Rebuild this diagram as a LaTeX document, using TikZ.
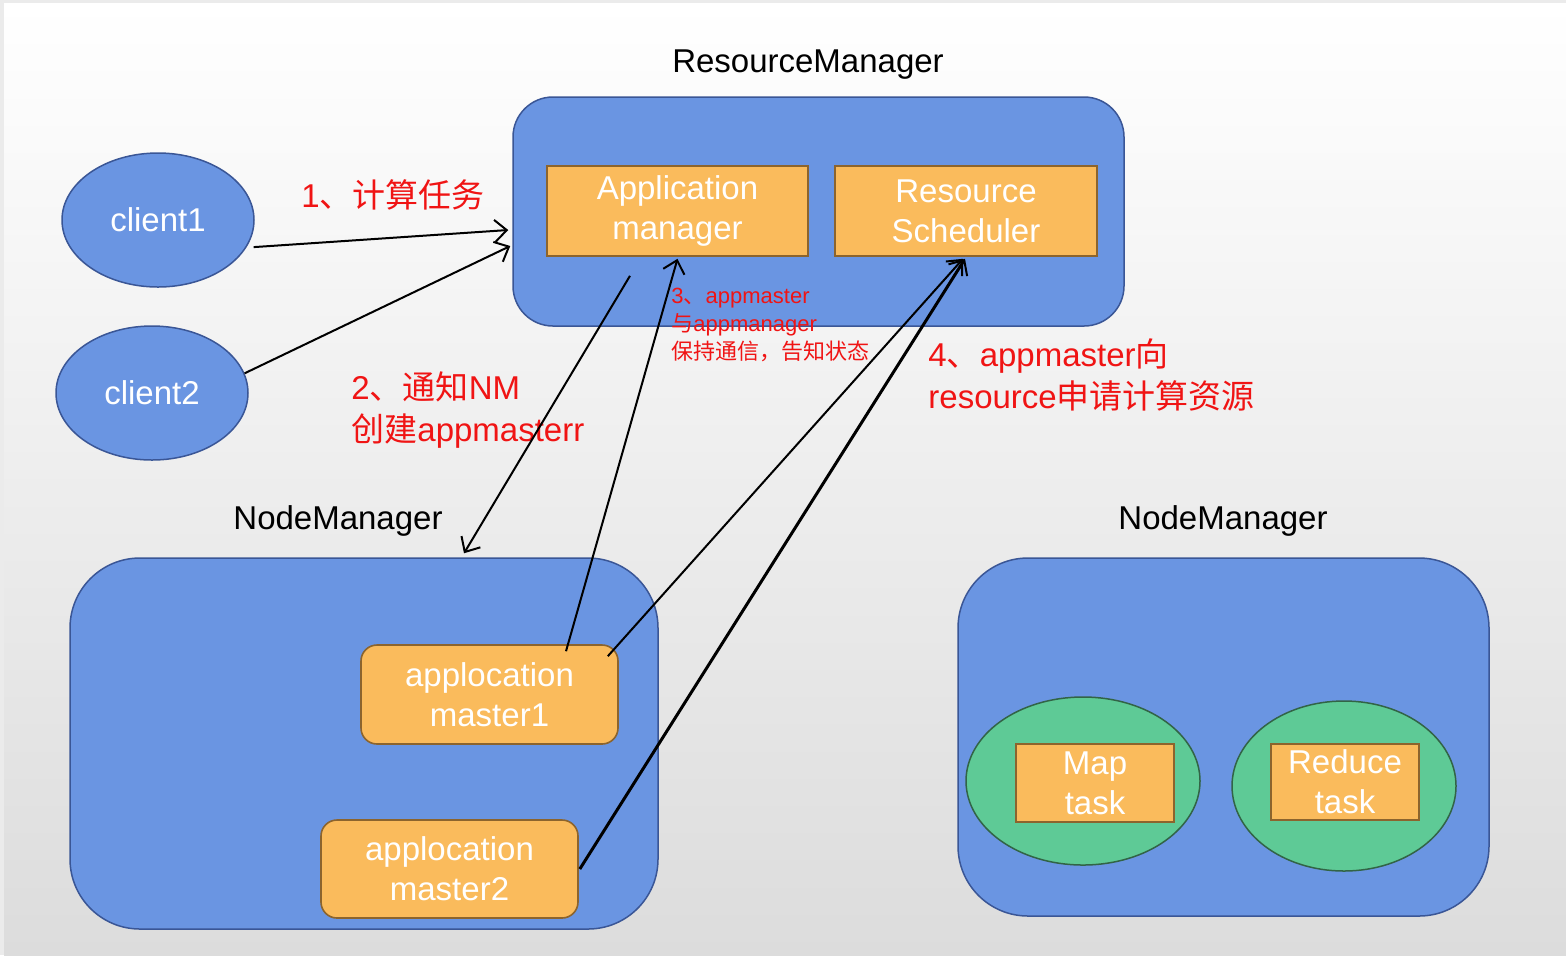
\documentclass[tikz,border=0pt]{standalone}
\usepackage{fontspec}
\setmainfont{Liberation Sans}
\newfontfamily\cjk{Noto Sans CJK SC}
\usetikzlibrary{arrows.meta,shapes.geometric}
\definecolor{bluefill}{RGB}{106,149,226}
\definecolor{bluedraw}{RGB}{58,86,150}
\definecolor{orfill}{RGB}{250,187,92}
\definecolor{ordraw}{RGB}{140,100,45}
\definecolor{grfill}{RGB}{94,202,150}
\definecolor{grdraw}{RGB}{50,100,70}
\definecolor{redtxt}{RGB}{240,20,20}
\definecolor{bgbot}{RGB}{220,220,220}
\definecolor{edgegray}{RGB}{235,235,235}
\tikzset{
  x=0.5pt, y=-0.5pt,
  bigbox/.style={draw=bluedraw, fill=bluefill, line width=0.75pt, rounded corners=35pt, inner sep=0pt},
  sqbox/.style={draw=ordraw, fill=orfill, line width=0.8pt, inner sep=0pt, align=center, text=white, font=\fontsize{16.5}{20}\selectfont},
  rbox/.style={sqbox, rounded corners=8pt},
  cli/.style={ellipse, draw=bluedraw, fill=bluefill, line width=0.75pt, inner sep=0pt, text=white, font=\fontsize{16.5}{19.5}\selectfont},
  gell/.style={ellipse, draw=grdraw, fill=grfill, line width=0.75pt, inner sep=0pt},
  title/.style={font=\fontsize{16.5}{19.5}\selectfont, text=black, inner sep=0pt},
  redlab/.style={font=\fontsize{16.5}{21}\selectfont, text=redtxt, align=left, inner sep=0pt, anchor=north west},
  smallred/.style={font=\fontsize{11}{14}\selectfont, text=redtxt, align=left, inner sep=0pt, anchor=north west},
  conn/.style={line width=1pt, -{Straight Barb[length=6pt,width=11pt,line width=1pt]}},
}
\begin{document}
\begin{tikzpicture}
\useasboundingbox (0,0) rectangle (1566,955);
\fill[edgegray] (0,0) rectangle (1566,955);
\shade[top color=white, bottom color=bgbot] (4,3) rectangle (1566,955);

% ResourceManager
\node[title] (rmlabel) at (808,65) {ResourceManager};
\node[bigbox, rounded corners=20pt, minimum width=305.5pt, minimum height=114.5pt] (RM) at (818.5,211.5) {};
\node[sqbox, minimum width=130.5pt, minimum height=45pt] (AM) at (677.5,211) {Application\\manager};
\node[sqbox, minimum width=131pt, minimum height=45pt] (RS) at (966,211) {Resource\\Scheduler};

% clients
\node[cli, minimum width=96pt, minimum height=67pt] (c1) at (158,220) {client1};
\node[cli, minimum width=96pt, minimum height=67pt] (c2) at (152,393) {client2};

% left NodeManager
\node[title] (nm1label) at (338,521) {NodeManager};
\node[bigbox, minimum width=294pt, minimum height=185.5pt] (NM1) at (364,743.5) {};
\node[rbox, minimum width=128.5pt, minimum height=49.5pt] (am1) at (489.5,694.5) {applocation\\master1};
\node[rbox, minimum width=128.5pt, minimum height=49pt] (am2) at (449.5,869) {applocation\\master2};

% right NodeManager
\node[title] (nm2label) at (1223,521) {NodeManager};
\node[bigbox, minimum width=265.5pt, minimum height=179pt] (NM2) at (1223.5,737) {};
\node[gell, minimum width=117pt, minimum height=84pt] (mapell) at (1083,781) {};
\node[sqbox, minimum width=79pt, minimum height=39pt] (map) at (1095,783) {Map\\task};
\node[gell, minimum width=112pt, minimum height=85pt] (redell) at (1344,786) {};
\node[sqbox, minimum width=74pt, minimum height=38pt] (red) at (1345,782) {Reduce\\task};

% labels
\node[redlab, anchor=center] (l1) at (393,195) {1{\cjk 、计算任务}};
\node[redlab] (l2) at (351,371) {2{\cjk 、通知}NM\\{\cjk 创建}appmasterr};
\node[smallred] (l3) at (671,288) {3{\cjk 、}appmaster\\{\cjk 与}appmanager\\{\cjk 保持通信，告知状态}};
\node[redlab] (l4) at (928,338) {4{\cjk 、}appmaster{\cjk 向}\\resource{\cjk 申请计算资源}};

% connectors
\draw[conn] ([xshift=3.5pt]c1.-17) -- ([xshift=-2pt,yshift=-9.25pt]RM.west);
\draw[conn] (c2.12) -- ([xshift=-1pt,yshift=-17.25pt]RM.west);
\draw[conn] ([xshift=-23.75pt,yshift=-9.5pt]AM.south) -- ([xshift=50pt,yshift=2pt]NM1.north);
\draw[conn] ([xshift=38.25pt,yshift=-3.5pt]am1.north) -- ([yshift=-1pt]AM.south);
\draw[conn] ([xshift=-5.5pt,yshift=-6pt]am1.north east) -- ([xshift=-1.5pt,yshift=-1pt]RS.south);
\draw[conn, line width=1.5pt] ([xshift=0.5pt]am2.east) -- ([xshift=-0.5pt,yshift=-1pt]RS.south);
\end{tikzpicture}
\end{document}
